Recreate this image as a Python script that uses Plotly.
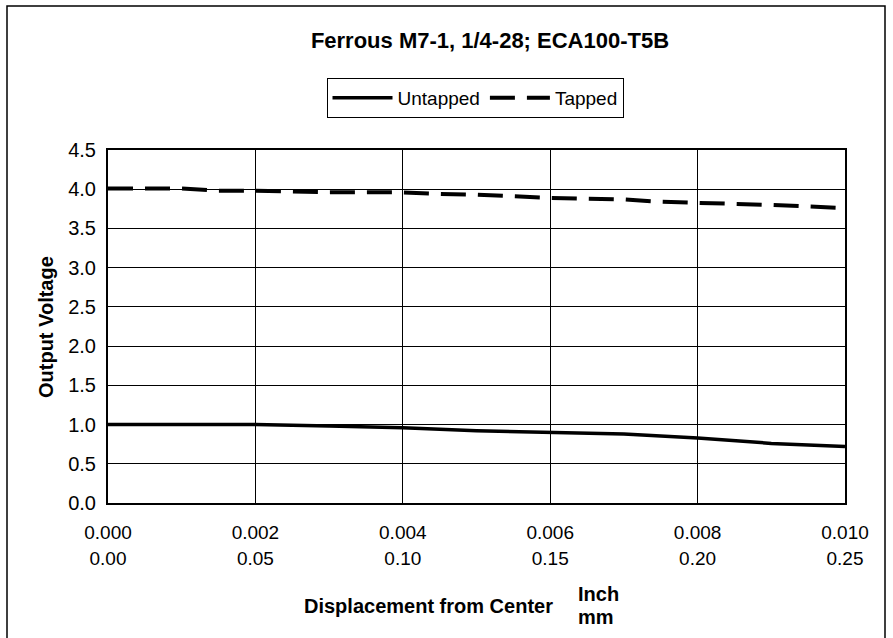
import plotly.graph_objects as go

# Data (inch displacement vs output voltage)
untapped_x = [0.000, 0.001, 0.002, 0.003, 0.004, 0.005, 0.006, 0.007, 0.008, 0.0085, 0.009, 0.010]
untapped_y = [1.00, 1.00, 1.00, 0.98, 0.96, 0.92, 0.90, 0.88, 0.83, 0.80, 0.76, 0.72]

tapped_x = [0.000, 0.001, 0.0015, 0.002, 0.003, 0.004, 0.0045, 0.005, 0.006, 0.007, 0.0075, 0.008, 0.009, 0.010]
tapped_y = [4.01, 4.01, 3.98, 3.98, 3.96, 3.96, 3.94, 3.93, 3.89, 3.87, 3.84, 3.83, 3.80, 3.76]

inch_ticks = [0.000, 0.002, 0.004, 0.006, 0.008, 0.010]
inch_labels = ["0.000", "0.002", "0.004", "0.006", "0.008", "0.010"]
mm_ticks = [0.00, 0.05, 0.10, 0.15, 0.20, 0.25]
mm_labels = ["0.00", "0.05", "0.10", "0.15", "0.20", "0.25"]
y_ticks = [0.0, 0.5, 1.0, 1.5, 2.0, 2.5, 3.0, 3.5, 4.0, 4.5]
y_labels = ["0.0", "0.5", "1.0", "1.5", "2.0", "2.5", "3.0", "3.5", "4.0", "4.5"]

FONT = "Liberation Sans, Arial, sans-serif"
TICK = 19
BOLD = 20

fig = go.Figure()
fig.add_trace(go.Scatter(x=untapped_x, y=untapped_y, mode="lines", name="Untapped",
                         line=dict(color="black", width=3.5)))
fig.add_trace(go.Scatter(x=tapped_x, y=tapped_y, mode="lines", name="Tapped",
                         line=dict(color="black", width=4, dash="25px,12px")))
# invisible trace to carry the mm axis
fig.add_trace(go.Scatter(x=[0, 0.25], y=[0, 0], xaxis="x2", mode="lines",
                         line=dict(width=0), showlegend=False, hoverinfo="skip"))

L, R, T, B = 108, 48, 150, 135
W, H = 893, 638
pw, ph = W - L - R, H - T - B

def px_x(p):
    return (p - L) / pw

def px_y(p):
    return (H - B - p) / ph

fig.update_layout(
    width=W, height=H,
    margin=dict(l=L, r=R, t=T, b=B),
    paper_bgcolor="white", plot_bgcolor="white",
    font=dict(family=FONT, size=TICK, color="black"),
    title=dict(text="<b>Ferrous M7-1, 1/4-28; ECA100-T5B</b>", xref="container",
               x=490 / W, xanchor="center",
               yref="container", y=1 - 40 / H, yanchor="middle",
               font=dict(size=22, family=FONT)),
    showlegend=True,
    legend=dict(orientation="h", x=px_x(475), xanchor="center", y=px_y(78), yanchor="top",
                bordercolor="black", borderwidth=1, bgcolor="white",
                font=dict(size=19, family=FONT), itemwidth=60, tracegroupgap=0),
    xaxis=dict(range=[0, 0.010], tickvals=inch_ticks, ticktext=inch_labels,
               showgrid=True, gridcolor="black", gridwidth=1,
               showline=True, linecolor="black", linewidth=2, mirror=True,
               ticks="", zeroline=False, ticklabelstandoff=11,
               tickfont=dict(size=TICK, family=FONT)),
    xaxis2=dict(range=[0, 0.25], tickvals=mm_ticks, ticktext=mm_labels,
                overlaying="x", side="bottom", anchor="y",
                showgrid=False, showline=False, ticks="", zeroline=False,
                ticklabelstandoff=42, tickfont=dict(size=TICK, family=FONT)),
    yaxis=dict(range=[0, 4.5], tickvals=y_ticks, ticktext=y_labels,
               showgrid=True, gridcolor="black", gridwidth=1,
               showline=True, linecolor="black", linewidth=2, mirror=True,
               ticks="", zeroline=False, ticklabelstandoff=6,
               tickfont=dict(size=20, family=FONT)),
    annotations=[
        dict(text="<b>Output Voltage</b>", xref="paper", yref="paper",
             x=px_x(46), y=px_y(327), xanchor="center", yanchor="middle", textangle=-90,
             showarrow=False, font=dict(size=BOLD, family=FONT)),
        dict(text="<b>Displacement from Center</b>", xref="paper", yref="paper",
             x=px_x(428), y=px_y(606), xanchor="center", yanchor="middle",
             showarrow=False, font=dict(size=BOLD, family=FONT)),
        dict(text="<b>Inch</b>", xref="paper", yref="paper",
             x=px_x(576), y=px_y(594), xanchor="left", yanchor="middle",
             showarrow=False, font=dict(size=BOLD, family=FONT)),
        dict(text="<b>mm</b>", xref="paper", yref="paper",
             x=px_x(576), y=px_y(617), xanchor="left", yanchor="middle",
             showarrow=False, font=dict(size=BOLD, family=FONT)),
    ],
    shapes=[
        dict(type="rect", xref="paper", yref="paper",
             x0=px_x(7), x1=px_x(885), y0=px_y(650), y1=px_y(6),
             line=dict(color="black", width=1.5), fillcolor="rgba(0,0,0,0)", layer="below"),
    ],
)

fig.write_html("out.html", config={"displayModeBar": False},
               post_script="document.body.style.margin='0px';document.body.style.overflow='hidden';")
